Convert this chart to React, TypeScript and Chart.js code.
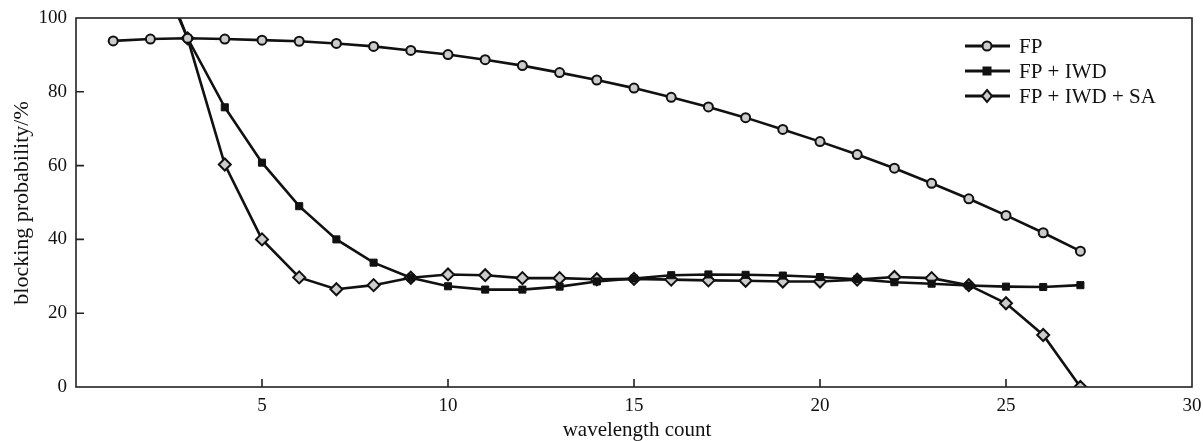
import React, { useEffect, useRef } from "react";
import { Chart, registerables } from "chart.js";
Chart.register(...registerables);

const seriesNames = ["FP", "FP + IWD", "FP + IWD + SA"];
const xFP = [1, 2, 3, 4, 5, 6, 7, 8, 9, 10, 11, 12, 13, 14, 15, 16, 17, 18, 19, 20, 21, 22, 23, 24, 25, 26, 27];
const fpValues = [93.8, 94.3, 94.5, 94.3, 94.0, 93.7, 93.1, 92.3, 91.2, 90.1, 88.7, 87.1, 85.2, 83.2, 81.0, 78.5, 75.9, 73.0, 69.8, 66.5, 63.0, 59.3, 55.2, 51.0, 46.5, 41.8, 36.8];
const xIWD = [2, 3, 4, 5, 6, 7, 8, 9, 10, 11, 12, 13, 14, 15, 16, 17, 18, 19, 20, 21, 22, 23, 24, 25, 26, 27];
const iwdValues = [120, 94.5, 75.8, 60.8, 49.0, 40.0, 33.7, 29.6, 27.3, 26.4, 26.4, 27.2, 28.6, 29.4, 30.3, 30.5, 30.4, 30.2, 29.8, 29.2, 28.4, 28.0, 27.5, 27.2, 27.1, 27.6];
const saValues = [118, 94.5, 60.3, 40.0, 29.7, 26.5, 27.6, 29.6, 30.5, 30.3, 29.5, 29.5, 29.2, 29.3, 29.1, 28.9, 28.8, 28.6, 28.6, 29.1, 29.8, 29.5, 27.6, 22.7, 14.1, 0];
const xTickValues = [5, 10, 15, 20, 25];
const yTickValues = [20, 40, 60, 80];
const xTitle = "wavelength count";
const yTitle = "blocking probability/%";

const FONT = '"Liberation Serif", "DejaVu Serif", serif';
const INK = "#111";

function drawMarker(ctx: CanvasRenderingContext2D, kind: number, x: number, y: number) {
  ctx.save();
  ctx.lineWidth = 2;
  ctx.strokeStyle = INK;
  if (kind === 0) {
    ctx.beginPath();
    ctx.arc(x, y, 4.5, 0, Math.PI * 2);
    ctx.fillStyle = "#ccc";
    ctx.fill();
    ctx.stroke();
  } else if (kind === 1) {
    ctx.fillStyle = INK;
    ctx.fillRect(x - 4.5, y - 4.5, 9, 9);
  } else {
    ctx.beginPath();
    ctx.moveTo(x, y - 6);
    ctx.lineTo(x + 5, y);
    ctx.lineTo(x, y + 6);
    ctx.lineTo(x - 5, y);
    ctx.closePath();
    ctx.fillStyle = "#ccc";
    ctx.fill();
    ctx.stroke();
  }
  ctx.restore();
}

const framePlugin = {
  id: "frameAndLegend",
  afterDraw(chart: any) {
    const ctx = chart.ctx as CanvasRenderingContext2D;
    const { left, right, top, bottom } = chart.chartArea;
    const xs = chart.scales.x;
    const ys = chart.scales.y;
    ctx.save();
    ctx.strokeStyle = "#222";
    ctx.lineWidth = 1.6;
    ctx.strokeRect(left, top, right - left, bottom - top);
    ctx.beginPath();
    xTickValues.forEach((v) => {
      const px = xs.getPixelForValue(v);
      ctx.moveTo(px, bottom);
      ctx.lineTo(px, bottom - 8);
    });
    yTickValues.forEach((v) => {
      const py = ys.getPixelForValue(v);
      ctx.moveTo(left, py);
      ctx.lineTo(left + 8, py);
    });
    ctx.stroke();

    // titles
    ctx.fillStyle = INK;
    ctx.font = `21px ${FONT}`;
    ctx.textAlign = "center";
    ctx.textBaseline = "alphabetic";
    ctx.fillText(xTitle, 637, 436);

    ctx.font = `22px ${FONT}`;
    ctx.save();
    ctx.translate(28, 203);
    ctx.rotate(-Math.PI / 2);
    ctx.fillText(yTitle, 0, 0);
    ctx.restore();

    // legend
    const legendYs = [46, 71, 96];
    seriesNames.forEach((name, i) => {
      const y = legendYs[i];
      ctx.strokeStyle = INK;
      ctx.lineWidth = 2.8;
      ctx.beginPath();
      ctx.moveTo(965, y);
      ctx.lineTo(1010, y);
      ctx.stroke();
      drawMarker(ctx, i, 987, y);
      ctx.fillStyle = INK;
      ctx.font = `21px ${FONT}`;
      ctx.textAlign = "left";
      ctx.textBaseline = "middle";
      ctx.fillText(name, 1019, y + 1);
    });
    ctx.restore();
  },
};

export default function App() {
  const ref = useRef<HTMLCanvasElement | null>(null);
  useEffect(() => {
    if (!ref.current) return;
    const mk = (xsArr: number[], ys: number[]) => xsArr.map((x, i) => ({ x, y: ys[i] }));
    const chart = new Chart(ref.current, {
      type: "line",
      data: {
        datasets: [
          {
            label: seriesNames[0],
            data: mk(xFP, fpValues),
            borderColor: INK,
            borderWidth: 2.6,
            pointStyle: "circle",
            pointRadius: 4.5,
            pointBorderWidth: 2,
            pointBackgroundColor: "#ccc",
            pointBorderColor: INK,
          },
          {
            label: seriesNames[1],
            data: mk(xIWD, iwdValues),
            borderColor: INK,
            borderWidth: 2.6,
            pointStyle: "rect",
            pointRadius: 5,
            pointBorderWidth: 1,
            pointBackgroundColor: INK,
            pointBorderColor: INK,
          },
          {
            label: seriesNames[2],
            data: mk(xIWD, saValues),
            borderColor: INK,
            borderWidth: 2.6,
            pointStyle: "rectRot",
            pointRadius: 6,
            pointBorderWidth: 2,
            pointBackgroundColor: "#ccc",
            pointBorderColor: INK,
          },
        ],
      },
      options: {
        responsive: false,
        animation: false,
        layout: { padding: { top: 18, right: 11, left: 0, bottom: 0 } },
        plugins: { legend: { display: false }, tooltip: { enabled: false } },
        scales: {
          x: {
            type: "linear",
            min: 0,
            max: 30,
            grid: { display: false, drawTicks: false },
            border: { display: false },
            afterFit: (s: any) => {
              s.height = 54;
              s.paddingLeft = 0;
              s.paddingRight = 0;
            },
            afterBuildTicks: (s: any) => {
              s.ticks = [0, 5, 10, 15, 20, 25, 30].map((v) => ({ value: v }));
            },
            ticks: {
              padding: 8,
              color: INK,
              font: { family: FONT, size: 19 },
              maxRotation: 0,
              callback: (v: any) => (v === 0 ? "" : String(v)),
            },
          },
          y: {
            type: "linear",
            min: 0,
            max: 100,
            grid: { display: false, drawTicks: false },
            border: { display: false },
            afterFit: (s: any) => {
              s.width = 76;
              s.paddingTop = 0;
              s.paddingBottom = 0;
            },
            afterBuildTicks: (s: any) => {
              s.ticks = [0, 20, 40, 60, 80, 100].map((v) => ({ value: v }));
            },
            ticks: {
              padding: 9,
              color: INK,
              font: { family: FONT, size: 19 },
            },
          },
        },
      },
      plugins: [framePlugin],
    } as any);
    return () => chart.destroy();
  }, []);
  return (
    <div style={{ position: "fixed", left: 0, top: 0, width: 1203, height: 441, background: "#fff" }}>
      <canvas ref={ref} width={1203} height={441} />
    </div>
  );
}
